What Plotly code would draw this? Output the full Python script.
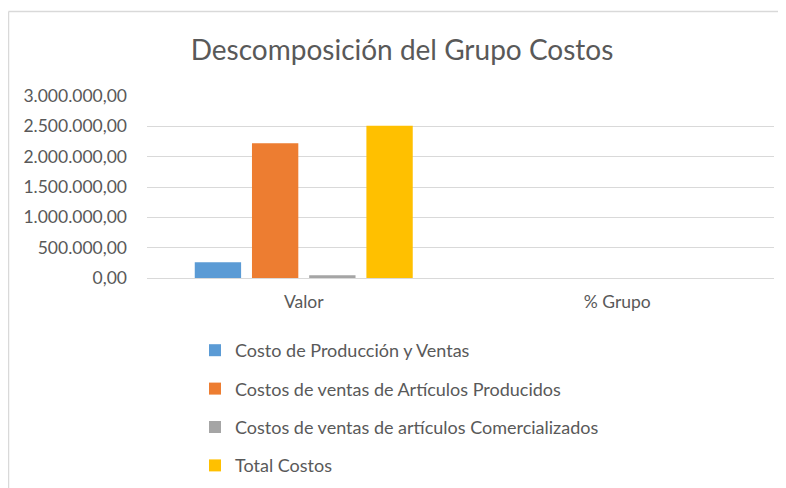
import plotly.graph_objects as go

categories = ["Valor", "% Grupo"]
series_names = [
    "Costo de Producción y Ventas",
    "Costos de ventas de Artículos Producidos",
    "Costos de ventas de artículos Comercializados",
    "Total Costos",
]
costo_produccion = [259000, 0.103]
articulos_producidos = [2220000, 0.880]
articulos_comercializados = [44000, 0.017]
total_costos = [2510000, 1.0]
series_values = [costo_produccion, articulos_producidos, articulos_comercializados, total_costos]
colors = ["#5b9bd5", "#ed7d31", "#a5a5a5", "#ffc000"]
y_ticks = [0, 500000, 1000000, 1500000, 2000000, 2500000, 3000000]

FONT = "Lato, 'Open Sans', sans-serif"
GREY = "#595959"

fig = go.Figure()
for i, (name, vals) in enumerate(zip(series_names, series_values)):
    fig.add_trace(
        go.Bar(
            x=categories,
            y=vals,
            name=name,
            marker=dict(color=colors[i], line=dict(width=0)),
            legendgroup=f"g{i}",
        )
    )

# page has an 8px body margin, so figure coords = page coords - 8
OFF = 8
W, H = 778, 480
L, T = 147 - OFF, 96 - OFF
pw, ph = 627, 182
R, B = W - L - pw, H - T - ph


def px_x(p):  # page px -> plot paper fraction
    return (p - OFF - L) / pw


def px_y(p):
    return 1 - (p - OFF - T) / ph


def cx(p):  # page px -> container fraction
    return (p - OFF) / W


def cy(p):
    return 1 - (p - OFF) / H


fig.update_layout(
    width=W,
    height=H,
    autosize=False,
    margin=dict(l=L, r=R, t=T, b=B, autoexpand=False),
    paper_bgcolor="white",
    plot_bgcolor="white",
    separators=",.",
    font=dict(family=FONT, color=GREY, size=16),
    title=dict(
        text="Descomposición del Grupo Costos",
        x=cx(402),
        xanchor="center",
        y=cy(50),
        yanchor="middle",
        font=dict(size=28, color=GREY, family=FONT),
    ),
    barmode="group",
    bargap=0.27,
    bargroupgap=0.19,
    showlegend=True,
    legend=dict(
        xref="container",
        yref="container",
        x=cx(195),
        xanchor="left",
        y=cy(332),
        yanchor="top",
        orientation="v",
        tracegroupgap=12,
        font=dict(size=18, color=GREY, family=FONT),
        bgcolor="rgba(0,0,0,0)",
    ),
    shapes=[
        dict(type="line", xref="paper", yref="paper",
             x0=px_x(8.5), x1=px_x(800), y0=px_y(11.5), y1=px_y(11.5),
             line=dict(color="#d9d9d9", width=1.5)),
        dict(type="line", xref="paper", yref="paper",
             x0=px_x(8.5), x1=px_x(8.5), y0=px_y(11.5), y1=px_y(500),
             line=dict(color="#d9d9d9", width=1.5)),
    ],
)
fig.update_xaxes(
    showgrid=False,
    showline=True,
    linecolor="#d9d9d9",
    linewidth=1,
    ticks="",
    ticklabelstandoff=8,
    automargin=False,
    tickfont=dict(size=17.5, color=GREY),
)
fig.update_yaxes(
    range=[0, 3000000],
    tickvals=y_ticks,
    tickformat=",.2f",
    showgrid=True,
    gridcolor="#d9d9d9",
    gridwidth=1,
    zeroline=False,
    showline=False,
    ticks="",
    ticklen=0,
    ticklabelstandoff=19,
    automargin=False,
    tickfont=dict(size=17.5, color=GREY),
)

fig.write_html("out.html")
